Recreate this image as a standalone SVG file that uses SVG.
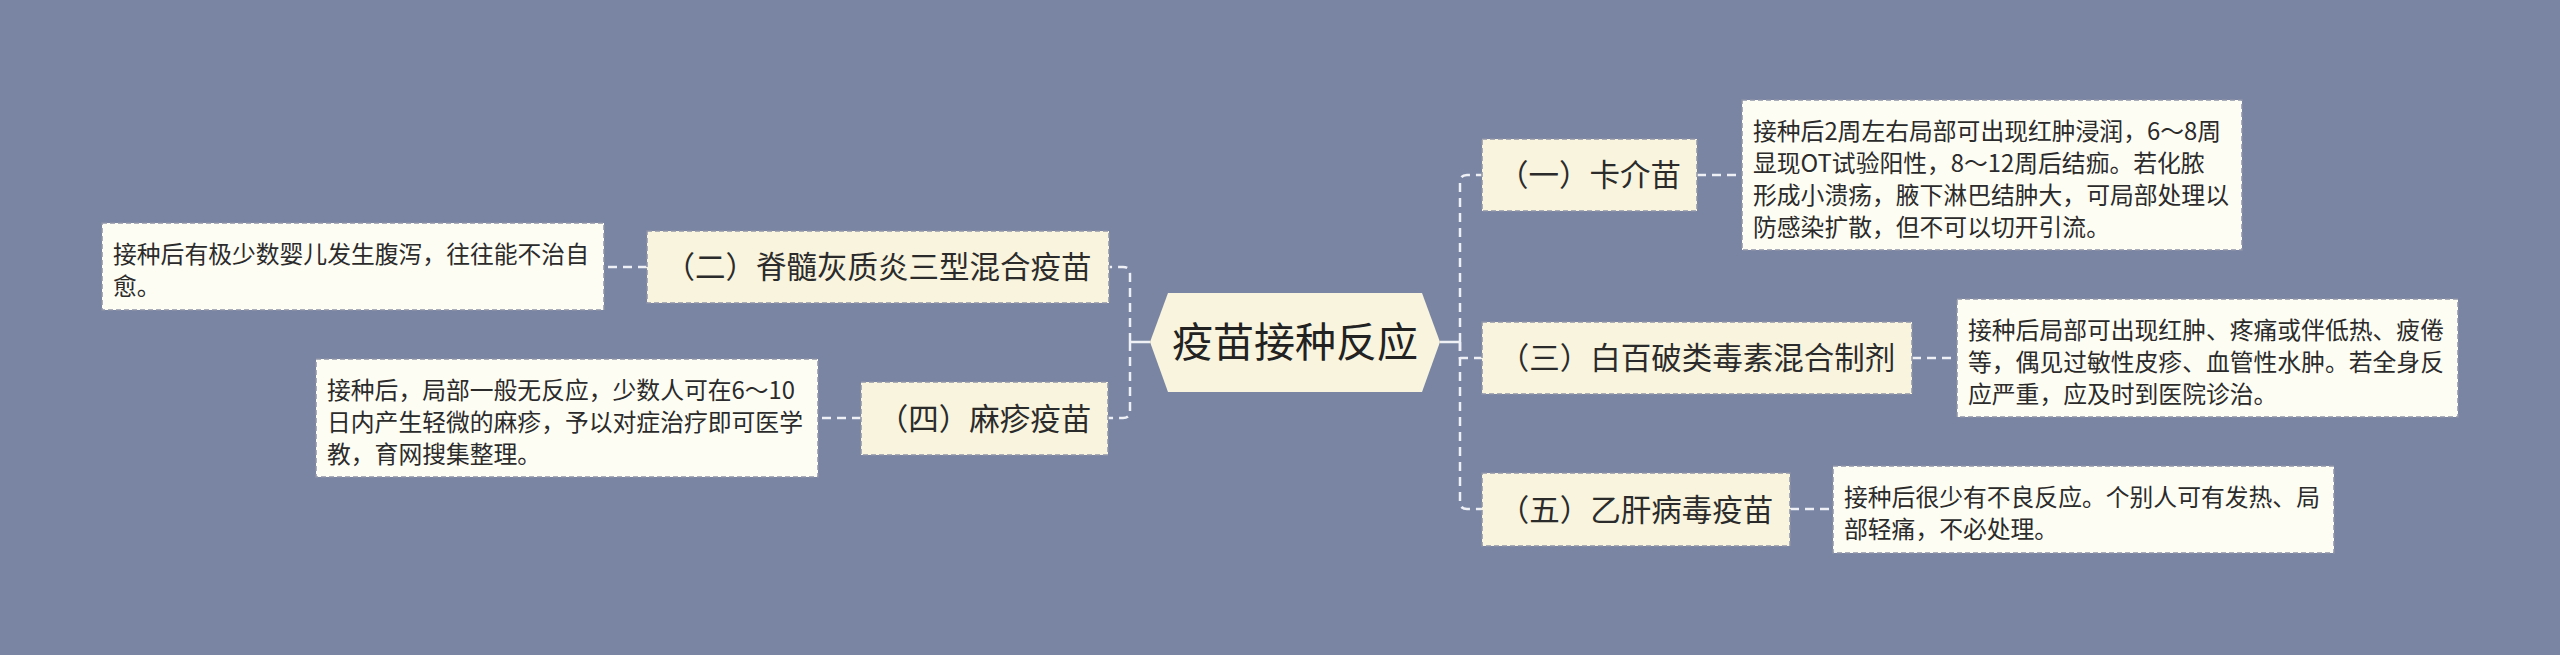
<svg xmlns="http://www.w3.org/2000/svg" width="2560" height="655" viewBox="0 0 2560 655">
<defs>
<style>
.bg{fill:#7985A3}
.node rect{fill:#F8F4DE;stroke:#8F94A8;stroke-width:1.5;stroke-dasharray:5 3}
.desc rect{fill:#FEFDF4;stroke:#8F94A8;stroke-width:1.5;stroke-dasharray:5 3}
.nt{font-family:"Noto Sans CJK SC","Noto Sans",sans-serif;font-size:30.5px;fill:#2B2B2B;text-anchor:middle}
.dt{font-family:"Noto Sans CJK SC","Noto Sans",sans-serif;font-size:23.8px;fill:#2B2B2B}
.ct{font-family:"Noto Sans CJK SC","Noto Sans",sans-serif;font-size:41px;fill:#222;text-anchor:middle}
.dash{fill:none;stroke:#EEF0F5;stroke-width:2.5;stroke-dasharray:9 6}
.solid{fill:none;stroke:#EEF0F5;stroke-width:2.5}
</style>
</defs>
<rect class="bg" x="0" y="0" width="2560" height="655"/>
<g id="connectors">
<path class="solid" d="M1440 342H1460"/>
<path class="solid" d="M1150 342H1130"/>
<path class="dash" d="M1460 342V182Q1460 175 1467 175H1482"/>
<path class="dash" d="M1460 342V358H1482"/>
<path class="dash" d="M1460 342V502Q1460 509 1467 509H1482"/>
<path class="dash" d="M1130 342V274Q1130 267 1123 267H1109"/>
<path class="dash" d="M1130 342V411Q1130 418 1123 418H1108"/>
<path class="dash" d="M1697 175H1742"/>
<path class="dash" d="M1912 358H1957"/>
<path class="dash" d="M1790 509H1833"/>
<path class="dash" d="M647 267H604"/>
<path class="dash" d="M861 418H818"/>
</g>
<g id="root">
<polygon points="1150,342 1168,293 1422,293 1440,342 1422,392 1168,392" fill="#F8F4DE"/>
<text class="ct" x="1295" y="357">疫苗接种反应</text>
</g>
<g id="n1" class="node">
<rect x="1482" y="139" width="215" height="72"/>
<text class="nt" x="1589.5" y="186">（一）卡介苗</text>
</g>
<g id="d1" class="desc">
<rect x="1742" y="100" width="500" height="150"/>
<text class="dt" x="1753"><tspan x="1753" y="139.5">接种后2周左右局部可出现红肿浸润，6～8周</tspan><tspan x="1753" y="171.5">显现OT试验阳性，8～12周后结痂。若化脓</tspan><tspan x="1753" y="203.5">形成小溃疡，腋下淋巴结肿大，可局部处理以</tspan><tspan x="1753" y="235.5">防感染扩散，但不可以切开引流。</tspan></text>
</g>
<g id="n3" class="node">
<rect x="1482" y="322" width="430" height="72"/>
<text class="nt" x="1697" y="369">（三）白百破类毒素混合制剂</text>
</g>
<g id="d3" class="desc">
<rect x="1957" y="299" width="501" height="118"/>
<text class="dt"><tspan x="1968" y="338.5">接种后局部可出现红肿、疼痛或伴低热、疲倦</tspan><tspan x="1968" y="370.5">等，偶见过敏性皮疹、血管性水肿。若全身反</tspan><tspan x="1968" y="402.5">应严重，应及时到医院诊治。</tspan></text>
</g>
<g id="n5" class="node">
<rect x="1482" y="473" width="308" height="73"/>
<text class="nt" x="1636" y="520.5">（五）乙肝病毒疫苗</text>
</g>
<g id="d5" class="desc">
<rect x="1833" y="466" width="501" height="87"/>
<text class="dt"><tspan x="1844" y="505.5">接种后很少有不良反应。个别人可有发热、局</tspan><tspan x="1844" y="537.5">部轻痛，不必处理。</tspan></text>
</g>
<g id="n2" class="node">
<rect x="647" y="231" width="462" height="72"/>
<text class="nt" x="878" y="278">（二）脊髓灰质炎三型混合疫苗</text>
</g>
<g id="d2" class="desc">
<rect x="102" y="223" width="502" height="87"/>
<text class="dt"><tspan x="113" y="262.5">接种后有极少数婴儿发生腹泻，往往能不治自</tspan><tspan x="113" y="294.5">愈。</tspan></text>
</g>
<g id="n4" class="node">
<rect x="861" y="382" width="247" height="73"/>
<text class="nt" x="984.5" y="429.5">（四）麻疹疫苗</text>
</g>
<g id="d4" class="desc">
<rect x="316" y="359" width="502" height="118"/>
<text class="dt"><tspan x="327" y="398.5">接种后，局部一般无反应，少数人可在6～10</tspan><tspan x="327" y="430.5">日内产生轻微的麻疹，予以对症治疗即可医学</tspan><tspan x="327" y="462.5">教，育网搜集整理。</tspan></text>
</g>
</svg>
